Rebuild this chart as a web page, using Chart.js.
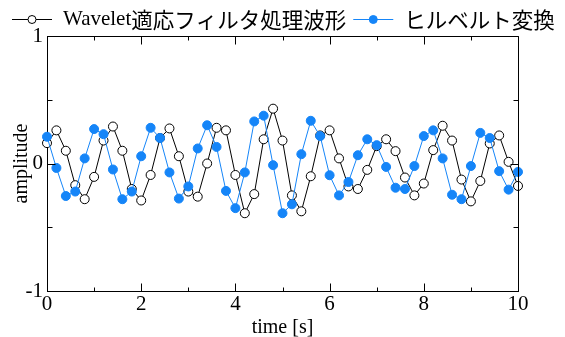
<!DOCTYPE html>
<html>
<head>
<meta charset="utf-8">
<script src="https://cdn.jsdelivr.net/npm/chart.js@4.4.1/dist/chart.umd.min.js"></script>
<style>
    html, body { margin: 0; padding: 0; background: #fff; }
    #wrap { width: 565px; height: 337px; }
</style>
</head>
<body>
<div id="wrap"><canvas id="waveChart" width="565" height="337"></canvas></div>
<script>
// Sample times [s]
const timeSec = [
    0, 0.2, 0.4, 0.6, 0.8, 1.0, 1.2, 1.4, 1.6, 1.8,
    2.0, 2.2, 2.4, 2.6, 2.8, 3.0, 3.2, 3.4, 3.6, 3.8,
    4.0, 4.2, 4.4, 4.6, 4.8, 5.0, 5.2, 5.4, 5.6, 5.8,
    6.0, 6.2, 6.4, 6.6, 6.8, 7.0, 7.2, 7.4, 7.6, 7.8,
    8.0, 8.2, 8.4, 8.6, 8.8, 9.0, 9.2, 9.4, 9.6, 9.8,
    10.0
];

// Wavelet adaptive filter output
const waveletValues = [
    0.16, 0.26, 0.10, -0.17, -0.28, -0.105, 0.18, 0.29, 0.10, -0.20,
    -0.29, -0.09, 0.20, 0.275, 0.057, -0.22, -0.26, 0.0, 0.28, 0.26,
    -0.09, -0.39, -0.24, 0.19, 0.43, 0.18, -0.25, -0.375, -0.10, 0.22,
    0.26, 0.04, -0.18, -0.20, -0.05, 0.136, 0.19, 0.097, -0.11, -0.25,
    -0.157, 0.105, 0.296, 0.18, -0.126, -0.297, -0.137, 0.157, 0.22, 0.013,
    -0.176
];

// Hilbert transform
const hilbertValues = [
    0.21, -0.035, -0.255, -0.22, 0.04, 0.27, 0.23, -0.047, -0.28, -0.22,
    0.057, 0.28, 0.20, -0.07, -0.275, -0.18, 0.118, 0.30, 0.13, -0.215,
    -0.35, -0.07, 0.33, 0.375, -0.013, -0.39, -0.32, 0.073, 0.335, 0.215,
    -0.092, -0.25, -0.145, 0.065, 0.19, 0.144, -0.027, -0.19, -0.20, -0.02,
    0.215, 0.26, 0.04, -0.245, -0.28, -0.02, 0.24, 0.20, -0.06, -0.205,
    -0.066
];

const seriesNames = ['Wavelet適応フィルタ処理波形', 'ヒルベルト変換'];
const xTicks = [0, 2, 4, 6, 8, 10];
const yTicks = [-1, 0, 1];

const BLUE = '#1585f8';
const SERIF = "'Liberation Serif', 'Times New Roman', serif";
const LATIN_FONT = "21px 'Liberation Serif'";
const CJK_FONT = "21.5px 'Noto Sans CJK JP'";

const toPoints = (vals) => timeSec.map((t, i) => ({ x: t, y: vals[i] }));

// Inward ticks on all four sides plus the top/right frame
const framePlugin = {
    id: 'frame',
    afterDraw(chart) {
        const { ctx, chartArea: a, scales } = chart;
        const xs = scales.x, ys = scales.y;
        const al = v => Math.round(v) + 0.5;
        ctx.save();
        ctx.strokeStyle = '#000';
        ctx.lineWidth = 1;
        ctx.beginPath();
        ctx.moveTo(al(a.left), al(a.top));
        ctx.lineTo(al(a.right), al(a.top));
        ctx.lineTo(al(a.right), al(a.bottom));
        xs.ticks.forEach(t => {
            const px = al(xs.getPixelForValue(t.value));
            const len = xTicks.includes(t.value) ? 8 : 4;
            ctx.moveTo(px, al(a.bottom)); ctx.lineTo(px, al(a.bottom) - len);
            ctx.moveTo(px, al(a.top)); ctx.lineTo(px, al(a.top) + len);
        });
        ys.ticks.forEach(t => {
            const py = al(ys.getPixelForValue(t.value));
            const len = yTicks.includes(t.value) ? 8 : 5;
            ctx.moveTo(al(a.left), py); ctx.lineTo(al(a.left) + len, py);
            ctx.moveTo(al(a.right), py); ctx.lineTo(al(a.right) - len, py);
        });
        ctx.stroke();
        ctx.restore();
    }
};

// Latin runs in serif, Japanese runs in gothic
function drawMixed(ctx, text, x, y) {
    const runs = text.match(/[\x20-\x7e]+|[^\x20-\x7e]+/g) || [];
    runs.forEach(r => {
        ctx.font = /^[\x20-\x7e]+$/.test(r) ? LATIN_FONT : CJK_FONT;
        ctx.fillText(r, x, y);
        x += ctx.measureText(r).width;
    });
    return x;
}

// Legend with line + marker symbols
const lineLegendPlugin = {
    id: 'lineLegend',
    afterDraw(chart) {
        const ctx = chart.ctx;
        const y = 19.5;
        const lineLen = 40;
        let x = 12;
        ctx.save();
        ctx.textBaseline = 'middle';
        chart.data.datasets.forEach((ds, i) => {
            ctx.strokeStyle = ds.borderColor;
            ctx.lineWidth = 1;
            ctx.beginPath();
            ctx.moveTo(x, y); ctx.lineTo(x + lineLen, y);
            ctx.stroke();
            ctx.beginPath();
            ctx.arc(x + lineLen / 2, y, 4, 0, Math.PI * 2);
            ctx.fillStyle = ds.pointBackgroundColor;
            ctx.fill();
            ctx.strokeStyle = ds.pointBorderColor;
            ctx.stroke();
            x += lineLen + 11;
            ctx.fillStyle = '#000';
            x = drawMixed(ctx, ds.label, x, y) + 7;
        });
        ctx.restore();
    }
};

const ctx = document.getElementById('waveChart').getContext('2d');

const chart = new Chart(ctx, {
    type: 'line',
    data: {
        datasets: [
            {
                label: seriesNames[0],
                data: toPoints(waveletValues),
                borderColor: '#000',
                borderWidth: 1,
                pointRadius: 4.5,
                pointBackgroundColor: '#fff',
                pointBorderColor: '#000',
                pointBorderWidth: 1,
                tension: 0,
                clip: false,
                order: 1
            },
            {
                label: seriesNames[1],
                data: toPoints(hilbertValues),
                borderColor: BLUE,
                borderWidth: 1,
                pointRadius: 4.5,
                pointBackgroundColor: BLUE,
                pointBorderColor: BLUE,
                pointBorderWidth: 1,
                tension: 0,
                clip: false,
                order: 0
            }
        ]
    },
    options: {
        responsive: false,
        animation: false,
        devicePixelRatio: 1,
        layout: { padding: { top: 36, right: 47, bottom: 0, left: 0 } },
        plugins: {
            legend: { display: false },
            tooltip: { enabled: false }
        },
        scales: {
            x: {
                type: 'linear',
                min: 0,
                max: 10,
                afterFit: s => { s.height = 46; },
                grid: { drawOnChartArea: false, drawTicks: false },
                border: { display: true, color: '#000', width: 1 },
                ticks: {
                    stepSize: 1,
                    autoSkip: false,
                    maxRotation: 0,
                    padding: 1,
                    color: '#000',
                    font: { family: SERIF, size: 21 },
                    callback: v => xTicks.includes(v) ? String(v) : ''
                },
                title: {
                    display: true,
                    text: 'time [s]',
                    color: '#000',
                    font: { family: SERIF, size: 20 },
                    padding: { top: 0, bottom: -3 }
                }
            },
            y: {
                min: -1,
                max: 1,
                afterFit: s => { s.width = 47; },
                grid: { drawOnChartArea: false, drawTicks: false },
                border: { display: true, color: '#000', width: 1 },
                ticks: {
                    stepSize: 0.5,
                    autoSkip: false,
                    padding: 4,
                    color: '#000',
                    font: { family: SERIF, size: 21 },
                    callback: v => yTicks.includes(v) ? String(v) : ''
                },
                title: {
                    display: true,
                    text: 'amplitude',
                    color: '#000',
                    font: { family: SERIF, size: 20 },
                    padding: { top: 10, bottom: 0 }
                }
            }
        }
    },
    plugins: [framePlugin, lineLegendPlugin]
});
</script>
</body>
</html>
